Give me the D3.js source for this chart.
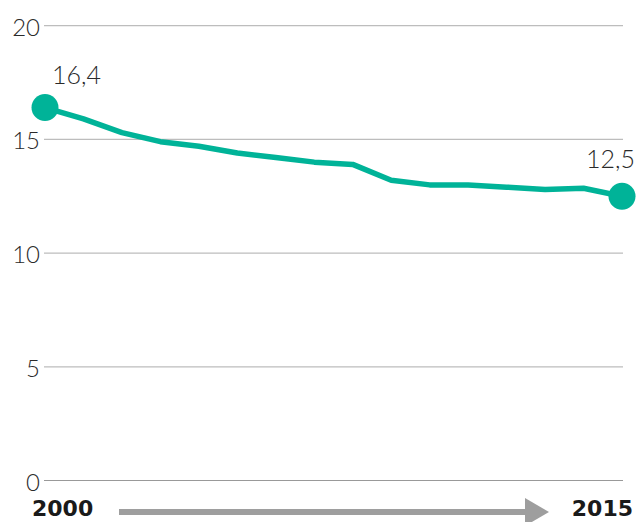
<!DOCTYPE html>
<html><head><meta charset="utf-8">
<script src="https://cdn.jsdelivr.net/npm/d3@7"></script>
<style>html,body{margin:0;padding:0;background:#fff;}svg{display:block;}</style>
</head><body>
<svg id="c" width="638" height="522"></svg>
<script>
const years = [2000,2001,2002,2003,2004,2005,2006,2007,2008,2009,2010,2011,2012,2013,2014,2015];
const values = [16.4,15.9,15.3,14.9,14.7,14.4,14.2,14.0,13.9,13.2,13.0,13.0,12.9,12.8,12.85,12.5];
const yTicks = [0,5,10,15,20];
const startLabel = "16,4";
const endLabel = "12,5";
const yearLabels = ["2000","2015"];

const svg = d3.select("#c");
const font = "Lato, 'Open Sans', sans-serif";
const x = d3.scaleLinear().domain([2000,2015]).range([45,622]);
const y = d3.scaleLinear().domain([0,20]).range([480.5,25.7]);

// gridlines + labels
const g = svg.append("g");
g.selectAll("line.grid").data(yTicks).join("line")
  .attr("x1",44).attr("x2",623)
  .attr("y1",d=>y(d)).attr("y2",d=>y(d))
  .attr("stroke",d=>d===0?"#999":"#bdbdbd").attr("stroke-width",1.2);
g.selectAll("text.tick").data(yTicks).join("text")
  .attr("x",40).attr("y",d=>y(d)+10)
  .attr("text-anchor","end")
  .attr("font-family",font).attr("font-weight",300).attr("font-size",24)
  .attr("fill","#2a2a2a").text(d=>d);

// line
svg.append("path").datum(values)
  .attr("d", d3.line().x((d,i)=>x(years[i])).y(d=>y(d)))
  .attr("fill","none").attr("stroke","#00b398").attr("stroke-width",5.5)
  .attr("stroke-linejoin","round");

// endpoints
const ends = [0, values.length-1];
svg.selectAll("circle.end").data(ends).join("circle")
  .attr("cx",i=>x(years[i])).attr("cy",i=>y(values[i])).attr("r",13.5)
  .attr("fill","#00b398");

svg.append("text").attr("x",x(years[0])+7).attr("y",y(values[0])-24)
  .attr("font-family",font).attr("font-weight",300).attr("font-size",25).attr("fill","#2a2a2a")
  .text(startLabel);
svg.append("text").attr("x",x(years[years.length-1])+13).attr("y",y(values[values.length-1])-28)
  .attr("text-anchor","end")
  .attr("font-family",font).attr("font-weight",300).attr("font-size",25).attr("fill","#2a2a2a")
  .text(endLabel);

// year labels
const yfont = "'DejaVu Sans', sans-serif";
svg.append("text").attr("x",32).attr("y",516)
  .attr("font-family",yfont).attr("font-weight",700).attr("font-size",22).attr("fill","#1a1a1a")
  .text(yearLabels[0]);
svg.append("text").attr("x",633).attr("y",516).attr("text-anchor","end")
  .attr("font-family",yfont).attr("font-weight",700).attr("font-size",22).attr("fill","#1a1a1a")
  .text(yearLabels[1]);

// arrow
svg.append("rect").attr("x",119).attr("y",509).attr("width",407).attr("height",6).attr("fill","#9e9e9e");
svg.append("path").attr("d","M525,498 L549,512 L525,526 Z").attr("fill","#9e9e9e");
</script>
</body></html>
